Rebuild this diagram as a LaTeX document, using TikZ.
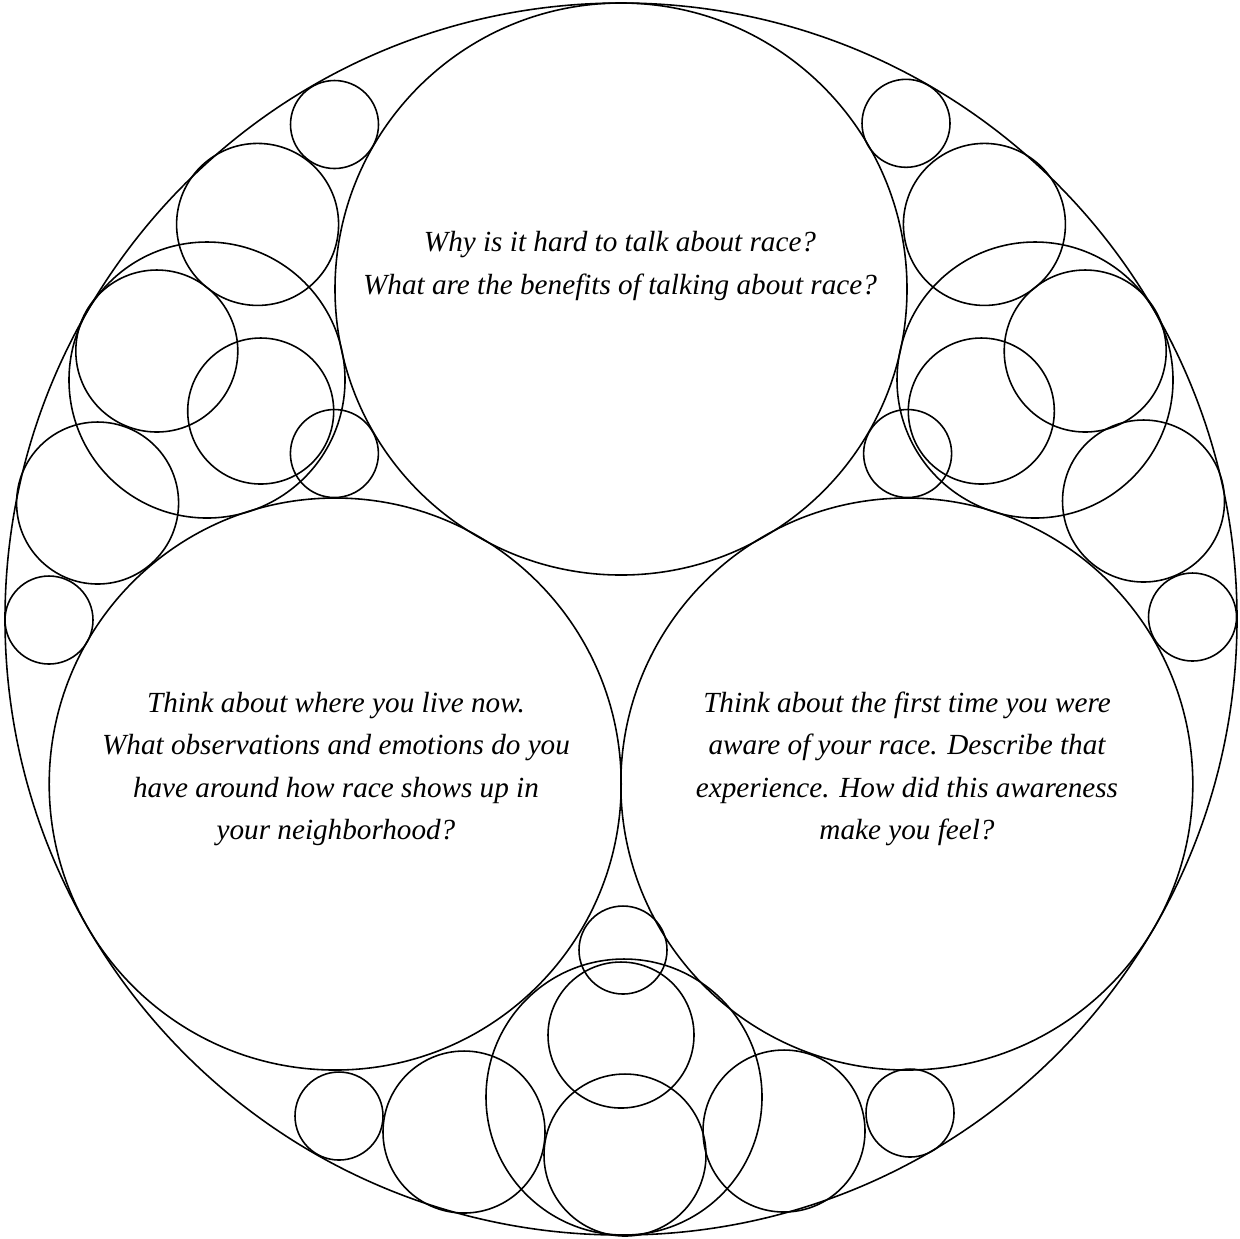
\documentclass[tikz,border=0pt]{standalone}
\usepackage{fontspec}
\setmainfont{Liberation Serif}

\begin{document}
\begin{tikzpicture}[
  x=0.01cm, y=-0.01cm,
  ring/.style={draw, line width=0.45pt},
  prompt/.style={align=center, font=\fontsize{8.3}{12.1}\selectfont\itshape}
]
\useasboundingbox (0,0) rectangle (1240,1238);
\draw[ring] (621,619) circle (616);
\draw[ring] (621,289) circle (286);
\draw[ring] (335.2,784) circle (286);
\draw[ring] (906.8,784) circle (286);

\draw[ring] (624,1097) circle (138);
\draw[ring] (623,950) circle (44);
\draw[ring] (621,1035) circle (73);
\draw[ring] (625,1155) circle (81);
\draw[ring] (464,1132) circle (81);
\draw[ring] (784,1131) circle (81);
\draw[ring] (339,1116) circle (44);
\draw[ring] (910,1113) circle (44);

\draw[ring] (207,380) circle (138);
\draw[ring] (334.4,453.5) circle (44);
\draw[ring] (260.7,411) circle (73);
\draw[ring] (156.8,351) circle (81);
\draw[ring] (257.6,224.4) circle (81);
\draw[ring] (97.6,503) circle (81);
\draw[ring] (334.5,124.5) circle (44);
\draw[ring] (49,620) circle (44);

\draw[ring] (1035,380) circle (138);
\draw[ring] (907.6,453.5) circle (44);
\draw[ring] (981.3,411) circle (73);
\draw[ring] (1085.2,351) circle (81);
\draw[ring] (1143.5,501) circle (81);
\draw[ring] (984.4,224.4) circle (81);
\draw[ring] (1192.5,617) circle (44);
\draw[ring] (906,123.3) circle (44);

\node[prompt] (why) at (620,266) {Why is it hard to talk about race?\\What are the benefits of talking about race?};
\node[prompt] (live) at (336,769) {Think about where you live now.\\What observations and emotions do you\\have around how race shows up in\\your neighborhood?};
\node[prompt] (first) at (907,769) {Think about the first time you were\\aware of your race. Describe that\\experience. How did this awareness\\make you feel?};
\end{tikzpicture}
\end{document}
